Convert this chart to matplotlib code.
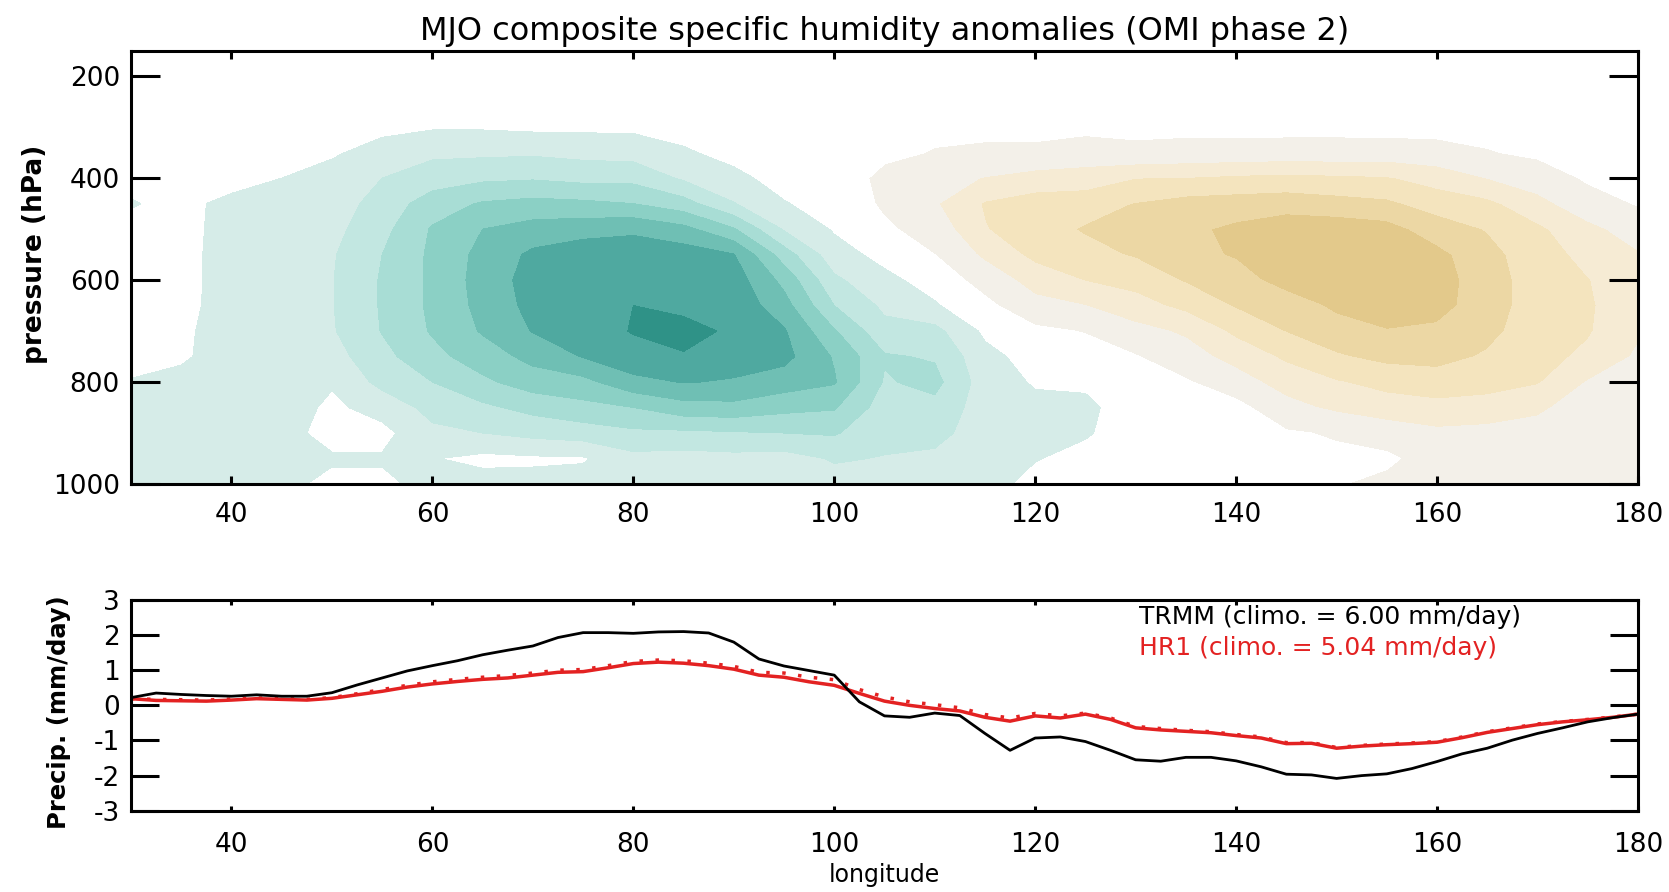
import numpy as np
import matplotlib
matplotlib.use('Agg')
import matplotlib.pyplot as plt

plt.rcParams['font.family'] = 'DejaVu Sans'
plt.rcParams['axes.unicode_minus'] = False

# ---- humidity anomaly composite (contour units, 1 unit per shaded band) ----
lon_q = [30, 35, 40, 45, 50, 55, 60, 65, 70, 75, 80, 85, 90, 95, 100, 105,
         110, 115, 120, 125, 130, 135, 140, 145, 150, 155, 160, 165, 170, 175, 180]
pres = [1000, 950, 900, 850, 800, 750, 700, 650, 600, 550, 500, 450, 400, 350,
        300, 250, 200, 150]

# one profile per longitude, ordered like pres (1000 hPa first)
q_profiles = [
    [0.9, 0.9, 0.9, 0.8, 0.55, 0.2, 0.1, 0.1, 0.1, 0.2, 0.3, 0.55, 0.3, 0.1, 0.0, 0.0, 0.0, 0.0],
    [1.0, 1.0, 1.0, 0.95, 0.8, 0.35, 0.3, 0.2, 0.2, 0.2, 0.2, 0.3, 0.1, 0.0, 0.0, 0.0, 0.0, 0.0],
    [1.0, 1.0, 1.0, 1.0, 1.0, 1.0, 1.0, 0.95, 0.9, 0.9, 0.85, 0.7, 0.2, 0.0, 0.0, 0.0, 0.0, 0.0],
    [0.7, 0.75, 0.8, 1.0, 1.05, 1.1, 1.1, 1.1, 1.1, 1.1, 1.05, 0.95, 0.5, 0.1, 0.0, 0.0, 0.0, 0.0],
    [0.3, 0.6, 0.2, 0.3, 0.6, 1.1, 1.4, 1.45, 1.45, 1.4, 1.2, 1.0, 0.8, 0.4, 0.1, 0.0, 0.0, 0.0],
    [0.3, 0.6, 0.2, 0.9, 1.8, 2.2, 2.55, 2.6, 2.6, 2.5, 2.2, 1.9, 1.5, 0.8, 0.3, 0.1, 0.0, 0.0],
    [0.8, 0.55, 1.3, 1.8, 2.5, 3.2, 3.6, 3.7, 3.7, 3.7, 3.6, 3.0, 2.0, 1.3, 0.4, 0.1, 0.0, 0.0],
    [0.9, 0.25, 1.5, 2.3, 3.3, 4.0, 4.6, 4.8, 4.9, 4.8, 4.5, 3.6, 2.3, 1.3, 0.4, 0.1, 0.0, 0.0],
    [0.8, 0.35, 1.8, 2.8, 4.0, 4.8, 5.55, 5.8, 5.9, 5.7, 4.9, 3.8, 2.4, 1.35, 0.3, 0.05, 0.0, 0.0],
    [0.9, 0.4, 2.0, 3.2, 4.2, 5.55, 6.1, 6.3, 6.3, 6.1, 5.1, 3.7, 2.2, 1.2, 0.3, 0.05, 0.0, 0.0],
    [1.0, 1.2, 2.3, 3.5, 5.2, 6.2, 6.55, 6.5, 6.4, 6.1, 5.3, 3.5, 2.2, 1.1, 0.3, 0.1, 0.0, 0.0],
    [1.0, 1.1, 2.3, 4.1, 5.55, 6.4, 6.9, 6.2, 6.3, 6.0, 4.8, 2.9, 1.35, 0.6, 0.2, 0.1, 0.0, 0.0],
    [0.9, 1.2, 2.4, 4.2, 5.4, 6.0, 6.3, 6.2, 6.0, 5.55, 3.6, 1.55, 0.7, 0.25, 0.05, 0.0, 0.0, 0.0],
    [0.9, 1.1, 2.5, 3.8, 5.0, 5.8, 5.6, 4.9, 4.2, 3.0, 1.4, 0.55, 0.2, 0.05, 0.0, 0.0, 0.0, 0.0],
    [1.1, 1.6, 2.6, 3.6, 4.6, 4.4, 3.6, 2.5, 1.7, 0.9, 0.4, 0.15, 0.05, 0.0, 0.0, 0.0, 0.0, 0.0],
    [1.0, 1.45, 1.8, 2.0, 2.4, 2.6, 1.8, 1.3, 0.75, 0.2, -0.35, -0.65, -0.75, -0.3, -0.1, -0.05, 0.0, 0.0],
    [0.9, 1.3, 1.8, 2.2, 2.8, 2.4, 1.8, 0.6, 0.1, -0.5, -0.9, -1.4, -1.1, -0.55, -0.3, -0.15, -0.05, 0.0],
    [0.85, 0.95, 1.0, 1.0, 1.0, 0.8, 0.3, -0.25, -0.9, -1.7, -2.45, -2.6, -1.55, -0.65, -0.3, -0.25, -0.1, -0.05],
    [0.2, 0.55, 0.75, 0.75, 0.4, 0.1, -0.3, -1.2, -1.9, -2.8, -3.1, -3.0, -1.9, -0.65, -0.3, -0.25, -0.1, -0.05],
    [0.0, 0.2, 0.6, 0.75, 0.3, -0.1, -0.55, -1.5, -2.55, -3.2, -3.6, -3.1, -2.0, -0.9, -0.3, -0.25, -0.1, -0.05],
    [0.0, 0.0, 0.0, -0.1, -0.2, -0.45, -1.2, -2.1, -2.9, -3.6, -3.9, -3.55, -2.5, -0.7, -0.3, -0.2, -0.1, 0.0],
    [0.0, 0.0, -0.1, -0.2, -0.4, -1.1, -1.65, -2.8, -3.6, -4.2, -4.3, -3.9, -2.55, -0.8, -0.3, -0.2, -0.1, 0.0],
    [0.0, -0.05, -0.15, -0.2, -1.1, -1.85, -2.75, -3.6, -4.1, -4.6, -4.7, -4.0, -2.7, -0.85, -0.25, -0.2, -0.1, 0.0],
    [-0.05, -0.2, -0.4, -1.2, -1.9, -2.7, -3.55, -4.0, -4.9, -5.2, -5.1, -4.1, -2.8, -0.9, -0.25, -0.2, -0.1, 0.0],
    [-0.45, -0.3, -0.6, -1.7, -2.45, -3.4, -4.1, -4.7, -5.2, -5.3, -5.1, -3.9, -2.7, -0.9, -0.25, -0.2, -0.1, 0.0],
    [-0.7, -0.35, -0.9, -2.1, -2.8, -3.8, -4.45, -5.2, -5.3, -5.3, -4.9, -3.7, -2.6, -0.95, -0.2, -0.2, -0.05, 0.0],
    [-0.75, -0.9, -1.3, -2.2, -3.1, -3.8, -4.3, -4.9, -5.0, -4.8, -4.0, -3.1, -2.1, -0.85, -0.2, -0.15, -0.05, 0.0],
    [-0.8, -0.9, -1.2, -2.1, -2.9, -3.4, -3.75, -3.9, -3.9, -3.8, -3.45, -2.75, -1.5, -0.55, -0.25, -0.1, -0.05, 0.0],
    [-0.85, -0.95, -1.2, -1.65, -2.6, -2.85, -3.0, -3.1, -3.1, -3.0, -2.7, -1.85, -0.95, -0.35, -0.15, -0.05, 0.0, 0.0],
    [-0.75, -0.8, -0.9, -1.1, -1.45, -2.3, -2.6, -2.65, -2.55, -2.2, -1.8, -0.85, -0.4, -0.25, -0.1, -0.05, 0.0, 0.0],
    [-0.75, -0.8, -0.85, -0.95, -1.1, -1.35, -1.65, -1.75, -1.75, -1.6, -1.0, -0.45, -0.25, -0.1, -0.05, 0.0, 0.0, 0.0],
]

levels = [-5.5, -4.5, -3.5, -2.5, -1.5, -0.5, 0.5, 1.5, 2.5, 3.5, 4.5, 5.5, 6.5, 7.5]
fill_colors = ['#e3c98b', '#ecd7a4', '#f4e4be', '#f6ebd4', '#f3f0e9', '#ffffff',
               '#d6ece8', '#c2e7e1', '#a8ddd5', '#8bd0c5', '#6fbfb4', '#4fa9a0', '#2f9287']

# ---- precipitation anomalies ----
lon_p = [30, 32.5, 35, 37.5, 40, 42.5, 45, 47.5, 50, 52.5, 55, 57.5, 60, 62.5, 65,
         67.5, 70, 72.5, 75, 77.5, 80, 82.5, 85, 87.5, 90, 92.5, 95, 97.5, 100,
         102.5, 105, 107.5, 110, 112.5, 115, 117.5, 120, 122.5, 125, 127.5, 130,
         132.5, 135, 137.5, 140, 142.5, 145, 147.5, 150, 152.5, 155, 157.5, 160,
         162.5, 165, 167.5, 170, 172.5, 175, 177.5, 180]
trmm = [0.22, 0.35, 0.31, 0.28, 0.26, 0.30, 0.26, 0.26, 0.36, 0.58, 0.78, 0.98, 1.13,
        1.27, 1.44, 1.57, 1.69, 1.93, 2.07, 2.07, 2.05, 2.09, 2.10, 2.06, 1.80, 1.32,
        1.12, 0.99, 0.86, 0.10, -0.30, -0.34, -0.22, -0.29, -0.80, -1.28, -0.93, -0.90,
        -1.03, -1.28, -1.55, -1.59, -1.48, -1.48, -1.58, -1.75, -1.96, -1.98, -2.08,
        -2.00, -1.95, -1.80, -1.60, -1.38, -1.22, -0.99, -0.80, -0.64, -0.47, -0.35, -0.25]
hr1 = [0.19, 0.14, 0.13, 0.12, 0.15, 0.19, 0.17, 0.15, 0.20, 0.30, 0.40, 0.52, 0.61,
       0.68, 0.74, 0.78, 0.86, 0.94, 0.96, 1.07, 1.19, 1.23, 1.20, 1.13, 1.03, 0.86,
       0.80, 0.67, 0.57, 0.34, 0.12, 0.00, -0.09, -0.16, -0.34, -0.45, -0.30, -0.36,
       -0.25, -0.40, -0.64, -0.70, -0.74, -0.78, -0.86, -0.93, -1.09, -1.08, -1.22,
       -1.16, -1.12, -1.09, -1.05, -0.92, -0.77, -0.66, -0.55, -0.47, -0.41, -0.34, -0.25]
hr1_dot = [0.19, 0.17, 0.16, 0.15, 0.18, 0.21, 0.19, 0.17, 0.22, 0.33, 0.45, 0.57, 0.67,
           0.74, 0.80, 0.85, 0.92, 1.00, 1.02, 1.13, 1.25, 1.29, 1.27, 1.20, 1.11, 0.94,
           0.92, 0.80, 0.73, 0.45, 0.24, 0.10, 0.02, -0.07, -0.26, -0.36, -0.23, -0.30,
           -0.22, -0.36, -0.60, -0.66, -0.71, -0.75, -0.83, -0.90, -1.06, -1.06, -1.20,
           -1.14, -1.10, -1.07, -1.03, -0.90, -0.75, -0.64, -0.53, -0.46, -0.40, -0.33, -0.25]

xticks = [40, 60, 80, 100, 120, 140, 160, 180]
red = '#e32222'

fig = plt.figure(figsize=(16.69, 8.92), dpi=100)
ax1 = fig.add_axes([0.0785, 0.4574, 0.9029, 0.4858])
ax2 = fig.add_axes([0.0785, 0.0911, 0.9029, 0.2363])

# top panel: contour fill
q = np.array(q_profiles).T
ax1.contourf(lon_q, pres, q, levels=levels, colors=fill_colors)
ax1.set_xlim(30, 180)
ax1.set_ylim(1000, 150)
ax1.set_xticks(xticks)
ax1.set_yticks([200, 400, 600, 800, 1000])
ax1.tick_params(axis='y', direction='in', length=21, width=2.2, left=True, right=True,
                labelsize=19, pad=8)
ax1.tick_params(axis='x', direction='in', length=6, width=2.2, top=True, bottom=True,
                labelsize=19, pad=13)
ax1.set_title('MJO composite specific humidity anomalies (OMI phase 2)', fontsize=23, pad=8)
ax1.set_ylabel('pressure (hPa)', fontsize=19, fontweight='bold')
ax1.yaxis.set_label_coords(-0.055, 0.53)

# bottom panel: precip lines
ax2.plot(lon_p, hr1_dot, color=red, lw=2.5, linestyle=(0, (1, 3.6)))
ax2.plot(lon_p, hr1, color=red, lw=2.5)
ax2.plot(lon_p, trmm, color='black', lw=2.0)
ax2.set_xlim(30, 180)
ax2.set_ylim(-3, 3)
ax2.set_xticks(xticks)
ax2.set_yticks([-3, -2, -1, 0, 1, 2, 3])
ax2.tick_params(axis='y', direction='in', length=20, width=2.2, left=True, right=True,
                labelsize=19, pad=8)
ax2.tick_params(axis='x', direction='in', length=3.5, width=2.2, top=True, bottom=True,
                labelsize=19, pad=15)
ax2.set_ylabel('Precip. (mm/day)', fontsize=17.5, fontweight='bold')
ax2.yaxis.set_label_coords(-0.040, 0.47)
ax2.set_xlabel('longitude', fontsize=17, labelpad=4)

ax2.text(0.669, 0.919, 'TRMM (climo. = 6.00 mm/day)', transform=ax2.transAxes,
         fontsize=18, va='center', ha='left', color='black')
ax2.text(0.669, 0.772, 'HR1 (climo. = 5.04 mm/day)', transform=ax2.transAxes,
         fontsize=18, va='center', ha='left', color=red)

for ax in (ax1, ax2):
    for s in ax.spines.values():
        s.set_linewidth(2.2)

plt.savefig('out.png', dpi=100)
